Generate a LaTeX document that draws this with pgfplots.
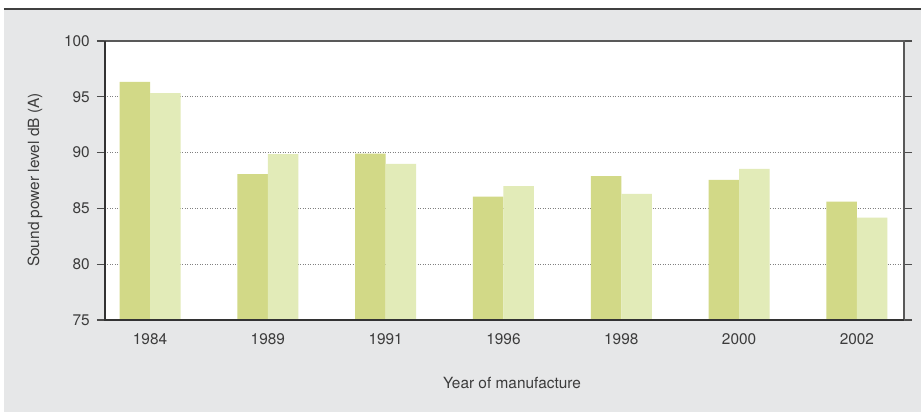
\documentclass[border=0pt]{standalone}
\usepackage{pgfplots}
\pgfplotsset{compat=1.18}
\usetikzlibrary{calc,backgrounds}
\usepackage{fontspec}
\setmainfont{TeX Gyre Heros}
\definecolor{panel}{HTML}{E6E7E8}
\definecolor{barA}{HTML}{D2D987}
\definecolor{barB}{HTML}{E2EBB8}
\definecolor{txt}{HTML}{3C3C3C}
\begin{document}
\fontsize{15.4}{18}\selectfont
\begin{tikzpicture}
\begin{axis}[
  name=ax, scale only axis,
  width=799pt, height=279pt,
  ymin=75, ymax=100, ytick={75,80,...,100},
  xmin=-0.382, xmax=6.40,
  xtick={0,...,6},
  xticklabels={1984,1989,1991,1996,1998,2000,2002},
  ybar=0pt, bar width=30.5pt,
  axis background/.style={fill=white},
  ymajorgrids, grid style={dash pattern=on 0.9pt off 1.6pt, black!50, line width=0.9pt},
  axis line style={black!65, line width=1.1pt},
  tick align=outside, major tick length=8pt,
  xtick style={draw=none},
  ytick style={black!70, line width=1.1pt},
  /pgf/number format/assume math mode=true,
  ticklabel style={font=\fontsize{15.4}{18}\selectfont, text=txt},
  yticklabel style={anchor=east, inner sep=0pt, xshift=-7pt},
  xticklabel style={anchor=north, inner sep=0pt, yshift=-5pt},
]
\addplot[fill=barA, draw=none] coordinates {
(0,96.33) (1,88.08) (2,89.9) (3,86.05) (4,87.9) (5,87.56) (6,85.6)};
\addplot[fill=barB, draw=none] coordinates {
(0,95.34) (1,89.87) (2,89.0) (3,87.0) (4,86.3) (5,88.55) (6,84.17)};
\end{axis}
\coordinate (O) at ($(ax.south west)+(-105pt,-92pt)$);
\draw[black!80, line width=1.4pt] (ax.north west) -- (ax.south west) -- (ax.south east);
\begin{scope}[on background layer]
\fill[white] (O) rectangle ($(O)+(921pt,412pt)$);
\fill[panel] ($(O)+(4pt,0pt)$) rectangle ($(O)+(921pt,403pt)$);
\draw[line width=1.5pt, color=black!75] ($(O)+(4pt,403pt)$) -- ($(O)+(921pt,403pt)$);
\end{scope}
\node[text=txt] at ($(O)+(512pt,29pt)$) {Year of manufacture};
\node[text=txt, rotate=90] at ($(O)+(35pt,232pt)$) {Sound power level dB (A)};
\pgfresetboundingbox
\path[use as bounding box] (O) rectangle ($(O)+(921pt,412pt)$);
\end{tikzpicture}
\end{document}
